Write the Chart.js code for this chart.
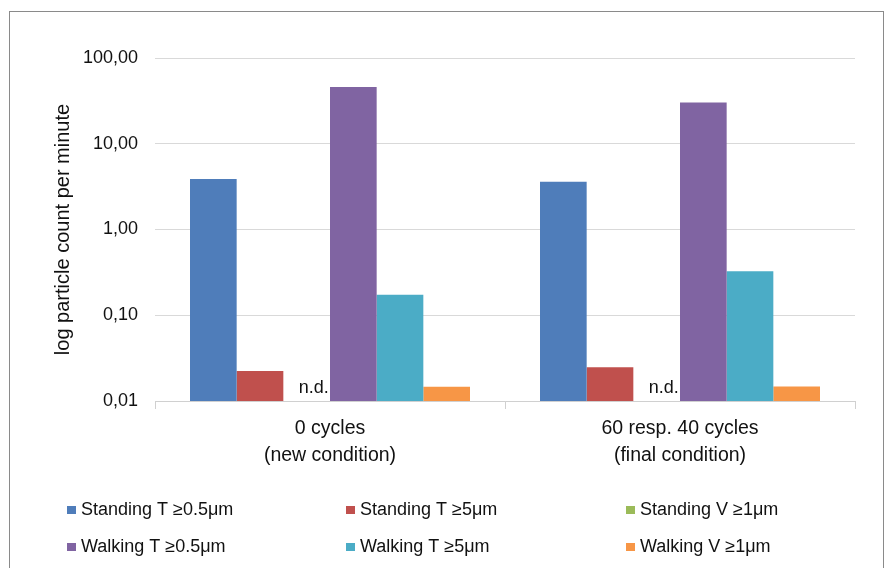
<!DOCTYPE html>
<html>
<head>
<meta charset="utf-8">
<script src="https://cdn.jsdelivr.net/npm/chart.js@4/dist/chart.umd.min.js"></script>
<style>
  html, body { margin: 0; padding: 0; background: #fff; }
  #wrap { position: relative; width: 896px; height: 568px; }
</style>
</head>
<body>
<div id="wrap"><canvas id="chart"></canvas></div>
<script>
// Particle counts per minute, two test conditions
const categories = [
  ['0 cycles', '(new condition)'],
  ['60 resp. 40 cycles', '(final condition)']
];
const seriesNames = [
  'Standing T \u22650.5\u03bcm',
  'Standing T \u22655\u03bcm',
  'Standing V \u22651\u03bcm',
  'Walking T \u22650.5\u03bcm',
  'Walking T \u22655\u03bcm',
  'Walking V \u22651\u03bcm'
];
const standingT05 = [3.87, 3.61];
const standingT5 = [0.0224, 0.0248];
const standingV1 = [null, null];      // not detected
const walkingT05 = [45.8, 30.3];
const walkingT5 = [0.173, 0.325];
const walkingV1 = [0.0147, 0.0148];
const yTicks = [0.01, 0.1, 1, 10, 100];
const notDetectedText = 'n.d.';

const seriesValues = [standingT05, standingT5, standingV1, walkingT05, walkingT5, walkingV1];
const seriesColors = ['#4F7DBA', '#C0504D', '#9BBB59', '#8064A2', '#4BACC6', '#F79646'];

const FONT = "'Liberation Sans', Arial, Helvetica, sans-serif";
const TEXT = '#111111';

// outer frame around the figure
const framePlugin = {
  id: 'frame',
  beforeDraw(chart) {
    const ctx = chart.ctx;
    ctx.save();
    ctx.strokeStyle = '#8a8a8a';
    ctx.lineWidth = 1;
    ctx.strokeRect(9.5, 11.5, 874, 620);
    ctx.restore();
  }
};

// "n.d." marker for series without a detected value
const ndPlugin = {
  id: 'notDetected',
  afterDatasetsDraw(chart) {
    const ctx = chart.ctx;
    const yScale = chart.scales.y;
    const baseY = yScale.getPixelForValue(yScale.min) - 8;
    ctx.save();
    ctx.font = '18px ' + FONT;
    ctx.fillStyle = TEXT;
    ctx.textAlign = 'center';
    ctx.textBaseline = 'alphabetic';
    chart.data.datasets.forEach((ds, di) => {
      const meta = chart.getDatasetMeta(di);
      ds.data.forEach((v, i) => {
        if (v === null || v === undefined) {
          const el = meta.data[i];
          if (el && isFinite(el.x)) {
            ctx.fillText(notDetectedText, el.x + 7, baseY);
          }
        }
      });
    });
    ctx.restore();
  }
};

// legend laid out as a 3-column grid under the plot
const gridLegendPlugin = {
  id: 'gridLegend',
  afterDraw(chart) {
    const ctx = chart.ctx;
    const colX = [67, 346, 626];
    const rowY = [510, 547];
    ctx.save();
    ctx.font = '18px ' + FONT;
    ctx.textBaseline = 'middle';
    ctx.textAlign = 'left';
    chart.data.datasets.forEach((ds, i) => {
      const x = colX[i % 3];
      const y = rowY[Math.floor(i / 3)];
      ctx.fillStyle = ds.backgroundColor;
      ctx.fillRect(x, y - 4, 9, 8);
      ctx.fillStyle = TEXT;
      ctx.fillText(ds.label, x + 14, y);
    });
    ctx.restore();
  }
};

const datasets = seriesNames.map((name, i) => ({
  label: name,
  data: seriesValues[i],
  backgroundColor: seriesColors[i],
  borderWidth: 0,
  categoryPercentage: 0.8,
  barPercentage: 1.0
}));

new Chart(document.getElementById('chart'), {
  type: 'bar',
  data: { labels: categories, datasets },
  plugins: [framePlugin, ndPlugin, gridLegendPlugin],
  options: {
    responsive: true,
    maintainAspectRatio: false,
    animation: false,
    layout: { padding: { left: 0, right: 41, top: 58, bottom: 0 } },
    plugins: {
      legend: { display: false },
      tooltip: { enabled: false }
    },
    scales: {
      x: {
        grid: {
          offset: true,
          drawOnChartArea: false,
          drawTicks: true,
          tickLength: 8,
          color: '#d0d0d0'
        },
        border: { display: true, color: '#d0d0d0' },
        ticks: {
          color: TEXT,
          padding: 6,
          maxRotation: 0,
          font: { family: FONT, size: 19.5, lineHeight: 1.38 }
        },
        afterFit(scale) { scale.height = 167; }
      },
      y: {
        type: 'logarithmic',
        min: 0.01,
        max: 100,
        afterBuildTicks(scale) {
          scale.ticks = yTicks.map(v => ({ value: v, major: false }));
        },
        afterFit(scale) { scale.width = 155; },
        grid: { color: '#d9d9d9', drawTicks: false },
        border: { display: false },
        ticks: {
          color: TEXT,
          padding: 17,
          font: { family: FONT, size: 18 },
          callback: (v) => Number(v).toFixed(2).replace('.', ',')
        },
        title: {
          display: true,
          text: 'log particle count per minute',
          color: TEXT,
          font: { family: FONT, size: 20 },
          padding: { top: 51, bottom: 0 }
        }
      }
    }
  }
});
</script>
</body>
</html>
